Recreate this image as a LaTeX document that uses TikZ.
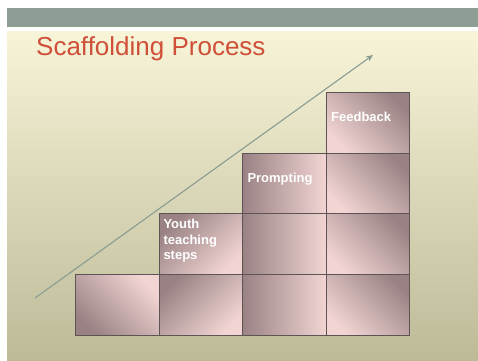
\documentclass[tikz,border=0pt]{standalone}
\usepackage{fontspec}
\setmainfont{Liberation Sans}
\usetikzlibrary{arrows.meta,positioning}
\definecolor{bandgray}{HTML}{8E9E94}
\definecolor{creamtop}{HTML}{F7F4D8}
\definecolor{creambot}{HTML}{BDBA98}
\definecolor{titlered}{HTML}{CF4F38}
\definecolor{stepdark}{HTML}{9A8284}
\definecolor{steplight}{HTML}{F2D5D3}
\definecolor{stepedge}{HTML}{5E5456}
\definecolor{risegray}{HTML}{8A9C92}
\begin{document}
\begin{tikzpicture}[
  x=1pt, y=-1pt,
  stepbox/.style={draw=stepedge, line width=0.8pt, anchor=north west,
    minimum width=83.6pt, minimum height=60.7pt, inner sep=0pt,
    top color=stepdark, bottom color=steplight},
  steplabel/.style={text=white, align=left, inner sep=0pt,
    font=\fontsize{13}{15.5}\selectfont\bfseries},
  rise/.style={draw=risegray, line width=1.1pt, -{Stealth[length=7pt,width=6pt]}}
]
\useasboundingbox (0,0) rectangle (478,360);
\fill[white] (0,0) rectangle (478,360);
\fill[bandgray] (7,8) rectangle (478,27);
\shade[top color=creamtop, bottom color=creambot] (7,31) rectangle (478,360);

\node[anchor=base west, text=titlered, inner sep=0pt,
  font=\fontsize{26}{30}\selectfont] (title) at (36,55) {Scaffolding Process};

% staircase: column c holds rows 3-c .. 3
\foreach \c/\ang in {0/135, 1/45, 2/90, 3/-45} {
  \pgfmathtruncatemacro\toprow{3-\c}
  \foreach \r in {\toprow,...,3}
    \node[stepbox, shading angle=\ang] (box\c\r)
      at ({75+83.6*\c},{92+60.7*\r}) {};
}

\node[steplabel, below right=5.6pt and 4.7pt of box12.north west] (youth)
  {Youth\\teaching\\steps};
\node[steplabel, below right=20pt and 5.1pt of box21.north west] (prompting)
  {Prompting};
\node[steplabel, below right=19.7pt and 5.2pt of box30.north west] (feedback)
  {Feedback};

\coordinate (risestart) at (35,298);
\coordinate (riseend) at (373,55);
\draw[rise] (risestart) -- (riseend);
\end{tikzpicture}
\end{document}
